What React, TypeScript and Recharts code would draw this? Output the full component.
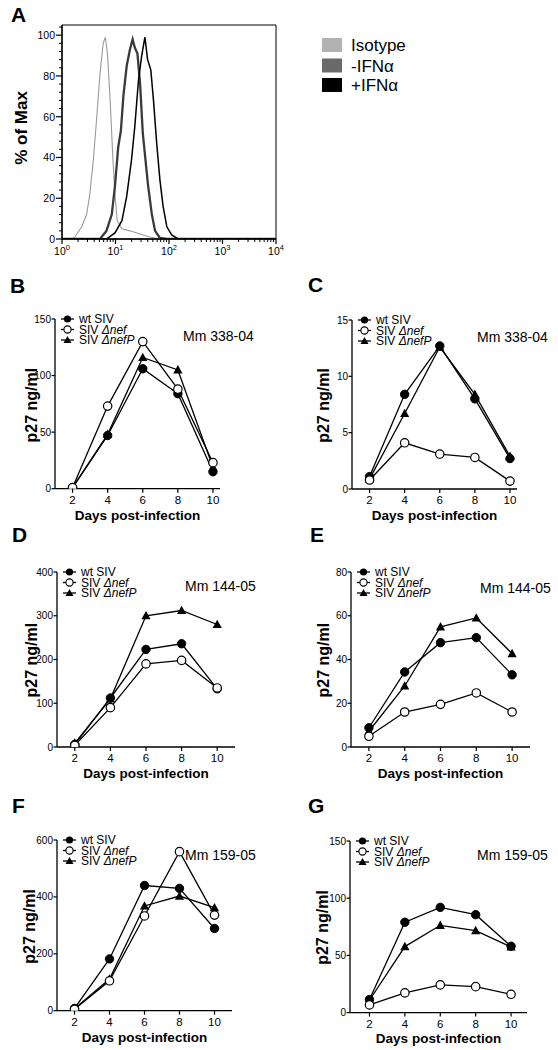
import React from 'react';
import { LineChart, Line, XAxis, YAxis, Legend, ReferenceArea } from 'recharts';

const FONT = '"Liberation Sans", Arial, Helvetica, sans-serif';

// ---------- Panel A: flow histograms (x = log10 intensity, y = % of max) ----------
const isoX = [0, 0.18, 0.24, 0.37, 0.46, 0.52, 0.59, 0.65, 0.71, 0.77, 0.81, 0.85, 0.9, 0.95, 0.99, 1.03, 1.12, 1.27, 1.46, 1.64, 1.83, 4];
const isoY = [0, 0, 1, 6, 12, 22, 40, 60, 81, 96, 99, 91, 68, 40, 22, 9, 5, 4, 2.5, 1, 0, 0];
const negX = [0, 0.71, 0.83, 0.93, 0.99, 1.05, 1.1, 1.15, 1.21, 1.27, 1.32, 1.36, 1.41, 1.46, 1.51, 1.56, 1.61, 1.68, 1.74, 1.83, 1.96, 4];
const negY = [0, 0, 4, 12, 26, 45, 53, 71, 85, 93, 98, 94, 91, 76, 52, 39, 26, 12, 4, 0.5, 0, 0];
const posX = [0, 0.83, 0.99, 1.12, 1.21, 1.3, 1.36, 1.43, 1.49, 1.55, 1.6, 1.66, 1.71, 1.77, 1.83, 1.89, 1.96, 2.05, 2.17, 4];
const posY = [0, 0, 3, 9, 21, 39, 55, 78, 90, 99, 88, 83, 68, 47, 29, 16, 6, 2, 0, 0];
const histNames = ['Isotype', '-IFNα', '+IFNα'];
const histColors = ['#b2b2b2', '#6a6a6a', '#000000'];
const aExponents = [0, 1, 2, 3, 4];
const aYMajor = [0, 20, 40, 60, 80, 100];

// ---------- Panels B–G: p27 ng/ml vs days post-infection ----------
const days = [2, 4, 6, 8, 10];
const seriesNames = ['wt SIV', 'SIV Δnef', 'SIV ΔnefP'];

const bWt = [1, 47, 106, 84, 15];
const bNef = [1, 73, 130, 88, 23];
const bNefP = [1, 48, 116, 105, 19];
const cWt = [1.1, 8.4, 12.7, 8.0, 2.7];
const cNef = [0.8, 4.1, 3.1, 2.8, 0.7];
const cNefP = [0.9, 6.7, 12.6, 8.4, 2.9];
const dWt = [6, 112, 223, 236, 133];
const dNef = [4, 90, 190, 198, 135];
const dNefP = [9, 110, 300, 312, 280];
const eWt = [8.8, 34.3, 47.7, 50, 33];
const eNef = [4.9, 16, 19.5, 24.7, 16];
const eNefP = [7.2, 27.9, 54.9, 59, 42.7];
const fWt = [8, 182, 440, 430, 289];
const fNef = [5, 105, 333, 559, 336];
const fNefP = [7, 111, 368, 403, 362];
const gWt = [11.4, 79, 92, 85.6, 58];
const gNef = [6.7, 17.2, 24.2, 22.7, 16];
const gNefP = [10.8, 57.7, 76.3, 71.7, 57.4];

const yTicksB = [0, 50, 100, 150];
const yTicksC = [0, 5, 10, 15];
const yTicksD = [0, 100, 200, 300, 400];
const yTicksE = [0, 20, 40, 60, 80];
const yTicksF = [0, 200, 400, 600];
const yTicksG = [0, 50, 100, 150];

const panelLetters = ['A', 'B', 'C', 'D', 'E', 'F', 'G'];
const monkeys = ['Mm 338-04', 'Mm 338-04', 'Mm 144-05', 'Mm 144-05', 'Mm 159-05', 'Mm 159-05'];
const xTitle = 'Days post-infection';
const yTitle = 'p27 ng/ml';
const aYTitle = '% of Max';

type PanelCfg = {
  letter: string; lx: number; ly: number;
  axisX: number; axisEnd: number; yTop: number; y0: number;
  xDomain: [number, number]; yTicks: number[];
  wt: number[]; nef: number[]; nefP: number[];
  mm: string; mmX: number; mmY: number; ytX: number;
};

const panels: PanelCfg[] = [
  { letter: panelLetters[1], lx: 10, ly: 293, axisX: 55, axisEnd: 220, yTop: 319.3, y0: 489, xDomain: [1, 10.4], yTicks: yTicksB, wt: bWt, nef: bNef, nefP: bNefP, mm: monkeys[0], mmX: 183, mmY: 341, ytX: 36.5 },
  { letter: panelLetters[2], lx: 308, ly: 292, axisX: 352, axisEnd: 517, yTop: 320, y0: 489, xDomain: [1, 10.4], yTicks: yTicksC, wt: cWt, nef: cNef, nefP: cNefP, mm: monkeys[1], mmX: 477, mmY: 342, ytX: 329 },
  { letter: panelLetters[3], lx: 12, ly: 542, axisX: 57, axisEnd: 235, yTop: 571.7, y0: 746.7, xDomain: [1, 11], yTicks: yTicksD, wt: dWt, nef: dNef, nefP: dNefP, mm: monkeys[2], mmX: 185, mmY: 591, ytX: 37 },
  { letter: panelLetters[4], lx: 310, ly: 542, axisX: 351, axisEnd: 530, yTop: 571.7, y0: 746.7, xDomain: [1, 11], yTicks: yTicksE, wt: eWt, nef: eNef, nefP: eNefP, mm: monkeys[3], mmX: 480, mmY: 593, ytX: 329 },
  { letter: panelLetters[5], lx: 12, ly: 813, axisX: 57, axisEnd: 232, yTop: 840, y0: 1010.7, xDomain: [1, 11], yTicks: yTicksF, wt: fWt, nef: fNef, nefP: fNefP, mm: monkeys[4], mmX: 185, mmY: 860, ytX: 35 },
  { letter: panelLetters[6], lx: 308, ly: 813, axisX: 350, axisEnd: 527, yTop: 840.7, y0: 1012.3, xDomain: [0.9, 10.9], yTicks: yTicksG, wt: gWt, nef: gNef, nefP: gNefP, mm: monkeys[5], mmX: 477, mmY: 860, ytX: 328 },
];

const AXIS = { stroke: '#000', strokeWidth: 1.3 };

const DayTick = (p: any) => {
  const { x, y, payload } = p;
  return (
    <g>
      <line x1={x} y1={y} x2={x} y2={y + 4} stroke="#000" strokeWidth={1.2} />
      <text x={x} y={y + 15} textAnchor="middle" fontSize={11.5} fontFamily={FONT} fill="#000">{payload.value}</text>
    </g>
  );
};

const ValTick = (p: any) => {
  const { x, y, payload } = p;
  return (
    <g>
      <line x1={x} y1={y} x2={x - 3.5} y2={y} stroke="#000" strokeWidth={1.2} />
      <text x={x - 4} y={y + 3.6} textAnchor="end" fontSize={10} fontFamily={FONT} fill="#000">{payload.value}</text>
    </g>
  );
};

const FilledDot = (p: any) => {
  if (p.cx == null || p.cy == null) return <g key={p.key} />;
  return <circle key={p.key} cx={p.cx} cy={p.cy} r={4.2} fill="#000" stroke="#000" strokeWidth={1} />;
};
const OpenDot = (p: any) => {
  if (p.cx == null || p.cy == null) return <g key={p.key} />;
  return <circle key={p.key} cx={p.cx} cy={p.cy} r={4.2} fill="#fff" stroke="#000" strokeWidth={1.2} />;
};
const TriDot = (p: any) => {
  if (p.cx == null || p.cy == null) return <g key={p.key} />;
  const { cx, cy } = p;
  return <path key={p.key} d={`M${cx},${cy - 4.8} L${cx + 4.6},${cy + 3.6} L${cx - 4.6},${cy + 3.6} Z`} fill="#000" />;
};

const LegendMarker = ({ kind, cx, cy }: { kind: number; cx: number; cy: number }) => {
  if (kind === 0) return <circle cx={cx} cy={cy} r={3.6} fill="#000" />;
  if (kind === 1) return <circle cx={cx} cy={cy} r={3.6} fill="#fff" stroke="#000" strokeWidth={1.1} />;
  return <path d={`M${cx},${cy - 4} L${cx + 4},${cy + 3} L${cx - 4},${cy + 3} Z`} fill="#000" />;
};

const renderName = (name: string) => {
  const i = name.indexOf('Δ');
  if (i < 0) return name;
  return (
    <>
      {name.slice(0, i)}
      <tspan fontStyle="italic">{name.slice(i)}</tspan>
    </>
  );
};

const SeriesLegend = () => (
  <svg width={110} height={36} style={{ display: 'block', overflow: 'visible' }}>
    {seriesNames.map((n, i) => {
      const cy = 6 + i * 10.5;
      return (
        <g key={n}>
          <line x1={0} y1={cy} x2={13} y2={cy} stroke="#000" strokeWidth={1.3} />
          <LegendMarker kind={i} cx={6.5} cy={cy} />
          <text x={18} y={cy + 4.2} fontSize={12} fontFamily={FONT} fill="#000">{renderName(n)}</text>
        </g>
      );
    })}
  </svg>
);

function DayPanel({ cfg }: { cfg: PanelCfg }) {
  const { axisX, axisEnd, yTop, y0, xDomain, yTicks, wt, nef, nefP } = cfg;
  const yw = 50, mt = 12, mr = 30, xh = 40;
  const L0 = axisX - yw;
  const T0 = yTop - mt;
  const W = yw + (axisEnd - axisX) + mr;
  const H = mt + (y0 - yTop) + xh;
  const data = days.map((d, i) => ({ day: d, wt: wt[i], nef: nef[i], nefP: nefP[i] }));
  return (
    <div style={{ position: 'absolute', left: L0, top: T0 }}>
      <LineChart width={W} height={H} data={data} margin={{ top: mt, right: mr, left: 0, bottom: 0 }}>
        <XAxis dataKey="day" type="number" domain={xDomain} ticks={days} interval={0} height={xh}
          tickSize={0} tickMargin={0} tickLine={false} axisLine={AXIS} tick={<DayTick />} allowDataOverflow />
        <YAxis type="number" domain={[0, yTicks[yTicks.length - 1]]} ticks={yTicks} interval={0} width={yw}
          tickSize={0} tickMargin={0} tickLine={false} axisLine={AXIS} tick={<ValTick />} allowDataOverflow />
        <Legend layout="vertical" align="center" verticalAlign="middle"
          wrapperStyle={{ left: axisX + 5.5 - L0, top: yTop - 6 - T0, width: 110, height: 36 }}
          content={() => <SeriesLegend />} />
        <Line dataKey="wt" name={seriesNames[0]} stroke="#000" strokeWidth={1.3} dot={FilledDot} isAnimationActive={false} />
        <Line dataKey="nefP" name={seriesNames[2]} stroke="#000" strokeWidth={1.3} dot={TriDot} isAnimationActive={false} />
        <Line dataKey="nef" name={seriesNames[1]} stroke="#000" strokeWidth={1.3} dot={OpenDot} isAnimationActive={false} />
      </LineChart>
    </div>
  );
}

const ALogTick = (p: any) => {
  const { x, y, payload } = p;
  const v = payload.value;
  const major = Math.abs(v - Math.round(v)) < 1e-6;
  if (!major) return <line x1={x} y1={y} x2={x} y2={y + 3} stroke="#000" strokeWidth={1} />;
  return (
    <g>
      <line x1={x} y1={y} x2={x} y2={y + 5} stroke="#000" strokeWidth={1.2} />
      <text x={x} y={y + 16} textAnchor="middle" fontSize={10.5} fontFamily={FONT} fill="#000">
        10<tspan dy={-5} fontSize={7.5}>{aExponents[Math.round(v)]}</tspan>
      </text>
    </g>
  );
};

const APctTick = (p: any) => {
  const { x, y, payload } = p;
  const v = payload.value;
  const major = aYMajor.includes(v);
  if (!major) return <line x1={x} y1={y} x2={x - 3} y2={y} stroke="#000" strokeWidth={1} />;
  return (
    <g>
      <line x1={x} y1={y} x2={x - 6} y2={y} stroke="#000" strokeWidth={1.2} />
      <text x={x - 7} y={y + 3.8} textAnchor="end" fontSize={10.5} fontFamily={FONT} fill="#000">{v}</text>
    </g>
  );
};

const HistLegend = () => (
  <svg width={140} height={60} style={{ display: 'block', overflow: 'visible' }}>
    {histNames.map((n, i) => {
      const top = [0, 20.5, 40][i];
      return (
        <g key={n}>
          <rect x={0} y={top} width={20} height={14} fill={histColors[i]} />
          <text x={29} y={top + 13} fontSize={17} fontFamily={FONT} fill="#000">{n}</text>
        </g>
      );
    })}
  </svg>
);

function PanelA() {
  const axisX = 62, axisEnd = 276, yTop = 25, y0 = 239;
  const yw = 50, mt = 10, xh = 30, chartW = 480;
  const L0 = axisX - yw, T0 = yTop - mt;
  const mr = chartW - yw - (axisEnd - axisX);
  const H = mt + (y0 - yTop) + xh;
  const xTicks: number[] = [];
  for (let n = 0; n < 4; n++) for (let k = 1; k <= 9; k++) xTicks.push(n + Math.log10(k));
  xTicks.push(4);
  const yTicks: number[] = [];
  for (let v = 0; v <= 104; v += 4) yTicks.push(v);
  const iso = isoX.map((x, i) => ({ x, y: isoY[i] }));
  const neg = negX.map((x, i) => ({ x, y: negY[i] }));
  const pos = posX.map((x, i) => ({ x, y: posY[i] }));
  return (
    <div style={{ position: 'absolute', left: L0, top: T0 }}>
      <LineChart width={chartW} height={H} margin={{ top: mt, right: mr, left: 0, bottom: 0 }}>
        <XAxis dataKey="x" type="number" domain={[0, 4]} ticks={xTicks} interval={0} height={xh}
          tickSize={0} tickMargin={0} tickLine={false} axisLine={AXIS} tick={<ALogTick />} allowDataOverflow />
        <YAxis dataKey="y" type="number" domain={[0, 105]} ticks={yTicks} interval={0} width={yw}
          tickSize={0} tickMargin={0} tickLine={false} axisLine={AXIS} tick={<APctTick />} allowDataOverflow />
        <ReferenceArea x1={0} x2={4} y1={0} y2={105} fill="none" fillOpacity={0} stroke="#000" strokeWidth={1} />
        <Legend layout="vertical" align="center" verticalAlign="middle"
          wrapperStyle={{ left: 322 - L0, top: 38 - T0, width: 140, height: 60 }}
          content={() => <HistLegend />} />
        <Line data={iso} dataKey="y" name={histNames[0]} stroke="#9a9a9a" strokeWidth={1.1} dot={false} isAnimationActive={false} />
        <Line data={neg} dataKey="y" name={histNames[1]} stroke="#3a3a3a" strokeWidth={2.3} dot={false} isAnimationActive={false} />
        <Line data={pos} dataKey="y" name={histNames[2]} stroke="#000" strokeWidth={1.5} dot={false} isAnimationActive={false} />
      </LineChart>
    </div>
  );
}

export default function App() {
  return (
    <div style={{ position: 'absolute', left: 0, top: 0, width: 558, height: 1050, background: '#fff', fontFamily: FONT }}>
      <PanelA />
      {panels.map((p) => <DayPanel key={p.letter} cfg={p} />)}
      <svg width={558} height={1050} style={{ position: 'absolute', left: 0, top: 0, pointerEvents: 'none' }}>
        <text x={11} y={22} fontSize={21} fontWeight="bold" fontFamily={FONT} fill="#000">{panelLetters[0]}</text>
        <text transform="translate(27,128) rotate(-90)" x={0} y={0} textAnchor="middle" fontSize={17} fontWeight="bold" fontFamily={FONT} fill="#000">{aYTitle}</text>
        {panels.map((p) => (
          <g key={p.letter}>
            <text x={p.lx} y={p.ly} fontSize={21} fontWeight="bold" fontFamily={FONT} fill="#000">{p.letter}</text>
            <text x={p.mmX} y={p.mmY} fontSize={14} fontFamily={FONT} fill="#000">{p.mm}</text>
            <text transform={`translate(${p.ytX},${(p.yTop + p.y0) / 2 + 1}) rotate(-90)`} x={0} y={0} textAnchor="middle"
              fontSize={16} fontWeight="bold" fontFamily={FONT} fill="#000">{yTitle}</text>
            <text x={(p.axisX + p.axisEnd) / 2} y={p.y0 + 31} textAnchor="middle" fontSize={13.5} fontWeight="bold"
              fontFamily={FONT} fill="#000">{xTitle}</text>
          </g>
        ))}
      </svg>
    </div>
  );
}
